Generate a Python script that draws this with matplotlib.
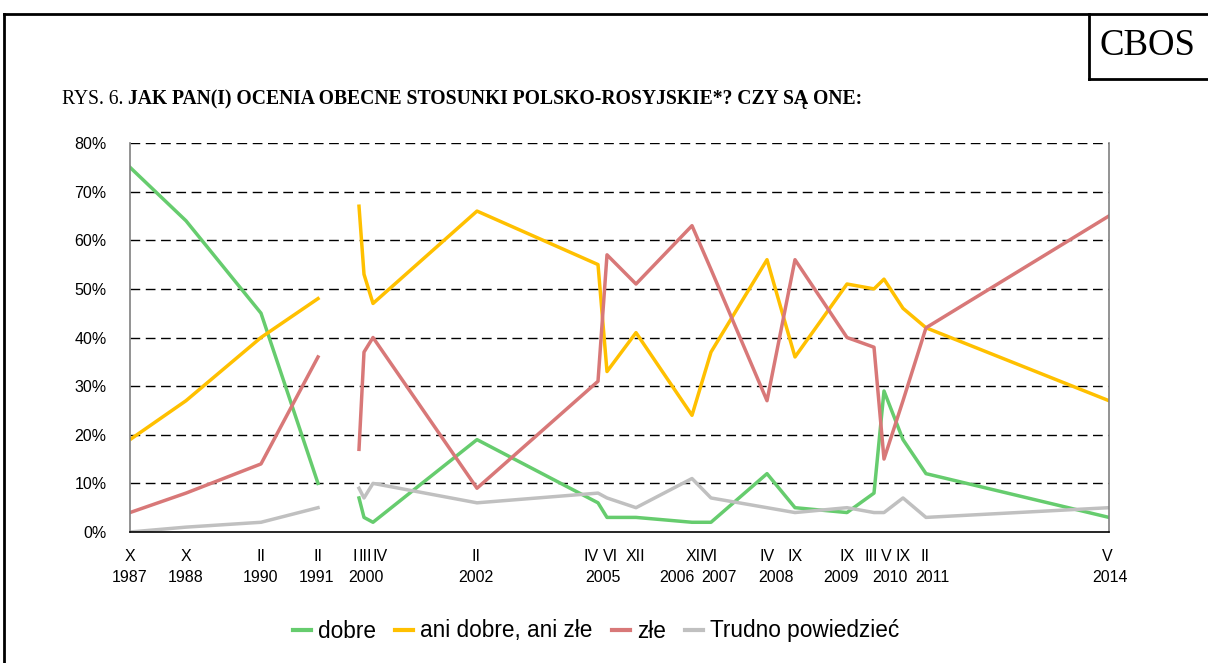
import matplotlib
matplotlib.use("Agg")
import matplotlib.pyplot as plt
import numpy as np

# survey dates: month (roman) and year, with their position on the chart's time scale
months = ["X", "X", "II", "II", "I", "III", "IV", "II", "IV", "VI", "XII",
          "XII", "VI", "IV", "IX", "IX", "III", "V", "IX", "II", "V"]
years = [1987, 1988, 1990, 1991, 2000, 2000, 2000, 2002, 2005, 2005, 2005,
         2006, 2007, 2008, 2008, 2009, 2010, 2010, 2010, 2011, 2014]
x_time = [0, 56, 131, 188, 229, 234, 243, 347, 468, 477, 506,
          562, 581, 637, 665, 717, 744, 754, 773, 796, 979]

dobre = [75, 64, 45, 10, 7, 3, 2, 19, 6, 3, 3, 2, 2, 12, 5, 4, 8, 29, 19, 12, 3]
ani = [19, 27, 40, 48, 67, 53, 47, 66, 55, 33, 41, 24, 37, 56, 36, 51, 50, 52, 46, 42, 27]
zle = [4, 8, 14, 36, 17, 37, 40, 9, 31, 57, 51, 63, 54, 27, 56, 40, 38, 15, 27, 42, 65]
trudno = [0, 1, 2, 5, 9, 7, 10, 6, 8, 7, 5, 11, 7, 5, 4, 5, 4, 4, 7, 3, 5]

series = [("dobre", dobre, "#66cc6e"),
          ("ani dobre, ani złe", ani, "#ffc000"),
          ("złe", zle, "#d87878"),
          ("Trudno powiedzieć", trudno, "#c0c0c0")]

# label placement along the axis (pixels from left of plot)
month_lab_x = [0, 56, 131, 188, 225, 235, 250, 346, 461, 480, 505,
               565, 580, 637, 665, 717, 741, 756, 773, 795, 977]
year_lab = [(1987, 0), (1988, 56), (1990, 131), (1991, 187), (2000, 236), (2002, 346),
            (2005, 473), (2006, 547), (2007, 589), (2008, 646), (2009, 711),
            (2010, 760), (2011, 802), (2014, 980)]

W, H = 1208, 663
fig = plt.figure(figsize=(W / 100, H / 100), dpi=100)
plt.rcParams['font.family'] = ['Liberation Sans', 'DejaVu Sans']

ax = fig.add_axes([130 / W, (H - 532) / H, 979 / W, 389 / H])
gap = 4  # lines are broken between 1991 and 2000
for name, vals, col in series:
    ax.plot(x_time[:gap], vals[:gap], color=col, lw=2.5, label=name)
    ax.plot(x_time[gap:], vals[gap:], color=col, lw=2.5)

ax.set_xlim(0, 979)
ax.set_ylim(0, 80)
ax.set_yticks(range(0, 81, 10))
ax.set_yticklabels([f"{v}%" for v in range(0, 81, 10)], fontsize=11.5)
ax.tick_params(axis='y', length=0, pad=17)
ax.set_xticks([])
for v in range(10, 81, 10):
    ax.axhline(v, color="black", lw=1, dashes=(7, 4), zorder=0)
ax.spines['top'].set_visible(False)
ax.spines['left'].set_color("#808080")
ax.spines['right'].set_color("#808080")
ax.spines['bottom'].set_color("black")
for s in ['left', 'right', 'bottom']:
    ax.spines[s].set_linewidth(1.2)

trans = ax.get_xaxis_transform()
for m, x in zip(months, month_lab_x):
    ax.text(x, -0.064, m, transform=trans, ha='center', va='center', fontsize=11.5)
for yr, x in year_lab:
    ax.text(x, -0.116, str(yr), transform=trans, ha='center', va='center', fontsize=11.5)

leg = fig.legend(loc='center', bbox_to_anchor=(596 / W, 1 - 631 / H), ncol=4, frameon=False,
                 fontsize=16.3, handlelength=0.8, handletextpad=0.3, columnspacing=0.85)
for h in leg.legend_handles:
    h.set_linewidth(3)

# outer frame and CBOS box
frame = dict(color="black", lw=2, transform=fig.transFigure, clip_on=False)
fig.add_artist(plt.Line2D([4 / W, 4 / W], [0, 1 - 14 / H], **frame))
fig.add_artist(plt.Line2D([4 / W, 1], [1 - 14 / H, 1 - 14 / H], **frame))
fig.add_artist(plt.Line2D([1089 / W, 1089 / W], [1 - 14 / H, 1 - 79 / H], **frame))
fig.add_artist(plt.Line2D([1089 / W, 1], [1 - 79 / H, 1 - 79 / H], **frame))
fig.text(1147 / W, 1 - 46 / H, "CBOS", ha='center', va='center', fontsize=26.5,
         family='Liberation Serif')

t1 = fig.text(62 / W, 1 - 104 / H, "RYS. 6. ", ha='left', va='baseline', fontsize=14.1,
              family='Liberation Serif')
ax.annotate("JAK PAN(I) OCENIA OBECNE STOSUNKI POLSKO-ROSYJSKIE*? CZY SĄ ONE:",
            xy=(1, 0), xycoords=t1, ha='left', va='bottom', fontsize=14.1,
            family='Liberation Serif', fontweight='bold', annotation_clip=False)

fig.savefig("out.png", dpi=100)
